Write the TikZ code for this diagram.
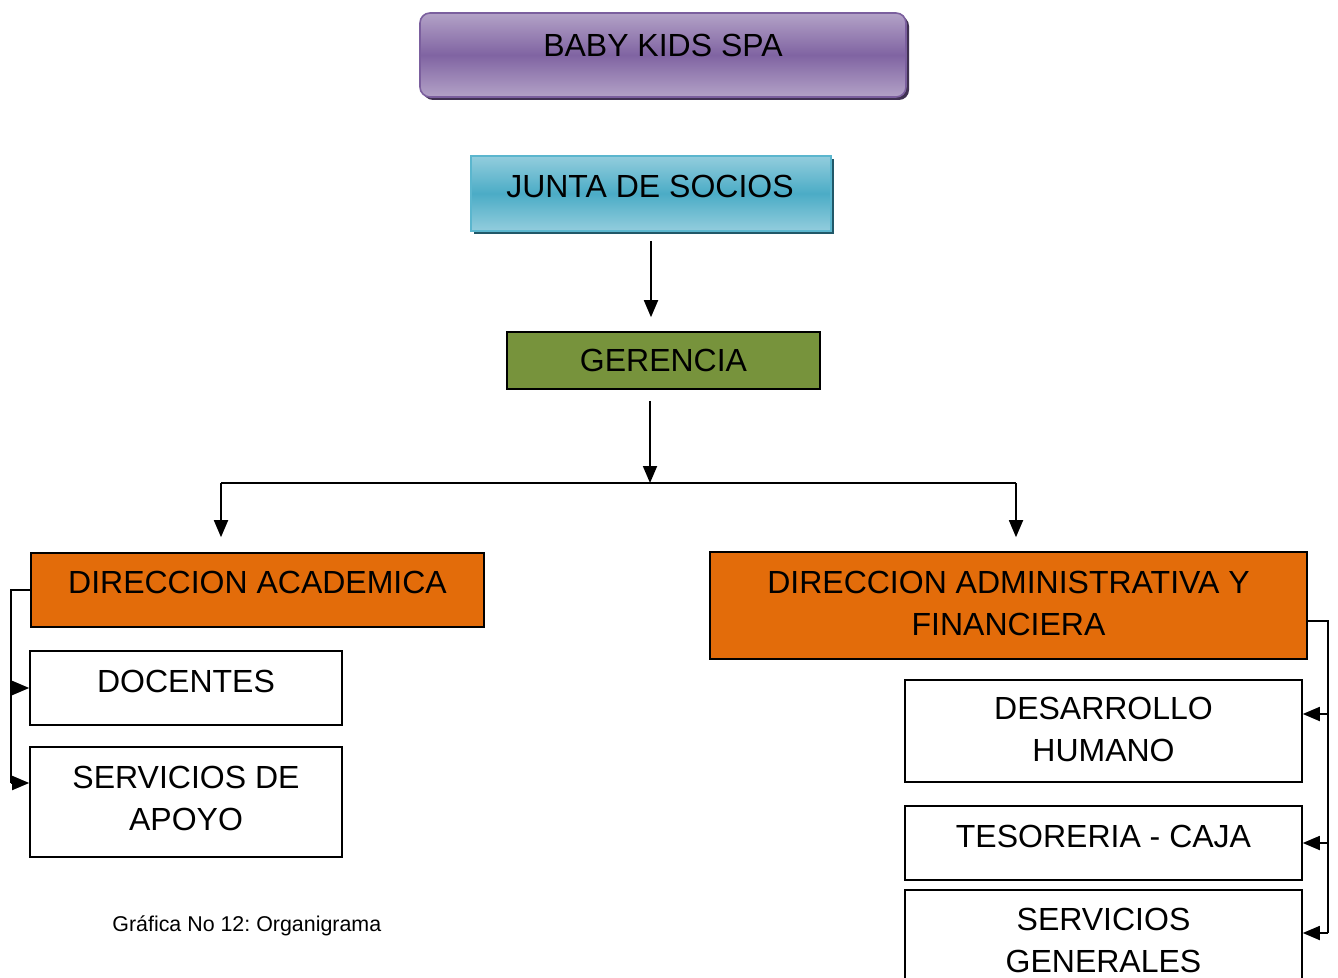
\documentclass[tikz,border=0pt]{standalone}
\usepackage{fontspec}
\setmainfont{Liberation Sans}
\usepackage{tikz}
\usetikzlibrary{positioning}
\usetikzlibrary{arrows.meta}
\usetikzlibrary{shadows}
\definecolor{babylight}{HTML}{B3A2C7}
\definecolor{babydark}{HTML}{8064A2}
\definecolor{babyedge}{HTML}{7B5F9E}
\definecolor{babyshade}{HTML}{403152}
\definecolor{juntalight}{HTML}{93CDDD}
\definecolor{juntadark}{HTML}{4BACC6}
\definecolor{juntaedge}{HTML}{5BB6CE}
\definecolor{juntashade}{HTML}{215868}
\definecolor{gerenciafill}{HTML}{77933C}
\definecolor{direccionfill}{HTML}{E36C0A}
\frenchspacing

\begin{document}
\begin{tikzpicture}[x=0.5pt, y=-0.5pt,
		box/.style={draw, line width=0.8pt, inner sep=0pt},
		boxtext/.style={anchor=north, inner sep=0pt, align=center, font=\fontsize{16}{21}\selectfont},
		link/.style={line width=0.9pt},
		arr/.style={line width=0.9pt, -{Triangle[length=8.5pt,width=7pt]}}]
			\useasboundingbox (0,0) rectangle (1338,978);
			% cabecera
			\node at (663,55) (baby) [minimum width=243pt, minimum height=42pt, rounded corners=5pt, draw=babyedge, line width=0.8pt, top color=babylight, bottom color=babylight, middle color=babydark, drop shadow={shadow xshift=1.5pt, shadow yshift=-1.5pt, fill=babyshade, opacity=1}] {};
			\node at (663,33.5) (babyT) [boxtext] {BABY KIDS SPA};
			\node at (651,193.5) (junta) [minimum width=180pt, minimum height=37.5pt, draw=juntaedge, line width=0.8pt, top color=juntalight, bottom color=juntalight, middle color=juntadark, drop shadow={shadow xshift=1.5pt, shadow yshift=-1.5pt, fill=juntashade, opacity=1}] {};
			\node at (650,175) (juntaT) [boxtext] {JUNTA DE SOCIOS};
			\node at (663.5,360.5) (gerencia) [box, fill=gerenciafill, minimum width=156.5pt, minimum height=28.5pt] {};
			\node at (663.5,349) (gerenciaT) [boxtext] {GERENCIA};
			% direcciones
			\node at (257.5,590) (academica) [box, fill=direccionfill, minimum width=226.5pt, minimum height=37pt] {};
			\node at (257.5,570.5) (academicaT) [boxtext] {DIRECCION ACADEMICA};
			\node at (1008.5,605.5) (administrativa) [box, fill=direccionfill, minimum width=298.5pt, minimum height=53.5pt] {};
			\node at (1008.5,570.5) (administrativaT) [boxtext] {DIRECCION ADMINISTRATIVA Y\\FINANCIERA};
			% dependencias
			\node at (186,688) (docentes) [box, minimum width=156pt, minimum height=37pt] {};
			\node at (186,669.5) (docentesT) [boxtext] {DOCENTES};
			\node at (186,802) (apoyo) [box, minimum width=156pt, minimum height=55pt] {};
			\node at (186,765.5) (apoyoT) [boxtext] {SERVICIOS DE\\APOYO};
			\node at (1103.5,731) (humano) [box, minimum width=198.5pt, minimum height=51pt] {};
			\node at (1103.5,696.5) (humanoT) [boxtext] {DESARROLLO\\HUMANO};
			\node at (1103.5,843) (tesoreria) [box, minimum width=198.5pt, minimum height=37pt] {};
			\node at (1103.5,824.5) (tesoreriaT) [boxtext] {TESORERIA - CAJA};
			\node at (1103.5,945) (generales) [box, minimum width=198.5pt, minimum height=55pt] {};
			\node at (1103.5,907.5) (generalesT) [boxtext] {SERVICIOS\\GENERALES};
			\node at (112,931.5) (caption) [anchor=base west, inner sep=0pt, font=\fontsize{10.7}{13}\selectfont] {Gráfica No 12: Organigrama};
			% conectores
			\coordinate (split) at (650,483); \coordinate (lsplit) at (221,483); \coordinate (rsplit) at (1016,483);
			\draw[arr, shorten <=4.5pt, shorten >=7pt] (junta.south) -- (junta.south |- gerencia.north);
			\draw[arr, shorten <=5.5pt] (split |- gerencia.south) -- (split);
			\draw[link] (lsplit) -- (rsplit);
			\draw[arr, shorten >=7.5pt] (lsplit) -- (lsplit |- academica.north);
			\draw[arr, shorten >=7pt] (rsplit) -- (rsplit |- administrativa.north);
			\coordinate (lbus) at (11,783);
			\draw[link] (academica.west) -| (lbus);
			\draw[arr] (lbus |- docentes.west) -- (docentes.west); \draw[arr] (lbus) -- (lbus -| apoyo.west);
			\coordinate (rtop) at (1328,621); \coordinate (rbus) at (1328,933); \coordinate (rhum) at (1328,714);
			\draw[link] (rtop -| administrativa.east) -- (rtop) -- (rbus);
			\draw[arr] (rhum) -- (rhum -| humano.east); \draw[arr] (rbus |- tesoreria.east) -- (tesoreria.east); \draw[arr] (rbus) -- (rbus -| generales.east);
\end{tikzpicture}
\end{document}
